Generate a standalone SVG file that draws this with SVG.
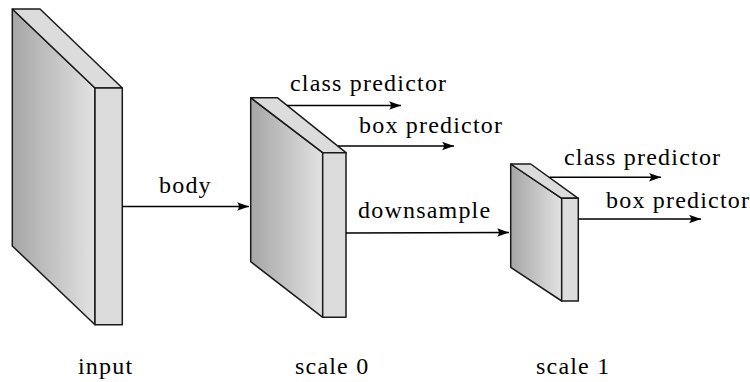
<svg xmlns="http://www.w3.org/2000/svg" width="750" height="382" viewBox="0 0 750 382">
<defs>
<linearGradient id="front" x1="0" y1="0" x2="1" y2="0">
<stop offset="0" stop-color="#a6a6a6"/>
<stop offset="1" stop-color="#e2e2e2"/>
</linearGradient>
<marker id="arr" markerUnits="userSpaceOnUse" markerWidth="14" markerHeight="10" viewBox="-12 -5 14 10" refX="0" refY="0" orient="auto">
<path d="M0,0 L-12,-4.2 Q-8,0 -12,4.2 Z" fill="#000"/>
</marker>
</defs>
<style>
.face{fill:url(#front);stroke:#1a1a1a;stroke-width:1.5;stroke-linejoin:round}
.side{fill:#dcdcdc;stroke:#1a1a1a;stroke-width:1.5;stroke-linejoin:round}
.conn line{stroke:#000;stroke-width:1.5;marker-end:url(#arr)}
.t{font-family:'Liberation Serif','Times New Roman','DejaVu Serif',serif;font-size:24px;letter-spacing:1.2px;fill:#000}
</style>
<rect width="750" height="382" fill="#fff"/>
<g id="input">
<polygon class="face" points="12.3,9 95,88 95,324.7 12.3,246"/>
<polygon class="side" points="12.3,9 40,9 122.3,88 95,88"/>
<rect class="side" x="95" y="88" width="27.3" height="236.7"/>
<text class="t" font-family="Liberation Serif, DejaVu Serif, serif" x="78" y="374">input</text>
</g>
<g id="scale0">
<polygon class="face" points="250.7,97.7 322.7,152.7 322.7,317.3 250.7,261.7"/>
<polygon class="side" points="250.7,97.7 277.3,97.7 346,152.7 322.7,152.7"/>
<rect class="side" x="322.7" y="152.7" width="23.3" height="164.6"/>
<text class="t" font-family="Liberation Serif, DejaVu Serif, serif" x="295" y="374">scale 0</text>
</g>
<g id="scale1">
<polygon class="face" points="510.7,164 561.7,198.3 561.7,301 510.7,267.3"/>
<polygon class="side" points="510.7,164 530.7,164 578.3,198.3 561.7,198.3"/>
<rect class="side" x="561.7" y="198.3" width="16.6" height="102.7"/>
<text class="t" font-family="Liberation Serif, DejaVu Serif, serif" x="536" y="374">scale 1</text>
</g>
<g id="connectors" class="conn">
<line x1="122.3" y1="206.5" x2="249" y2="206.5"/>
<line x1="287" y1="105.5" x2="401" y2="105.5"/>
<line x1="338" y1="146" x2="454" y2="146"/>
<line x1="346" y1="233" x2="509" y2="232.5"/>
<line x1="549.5" y1="177.3" x2="661" y2="177.3"/>
<line x1="578.3" y1="219" x2="701" y2="219"/>
</g>
<g id="labels">
<text class="t" font-family="Liberation Serif, DejaVu Serif, serif" x="159" y="193">body</text>
<text class="t" font-family="Liberation Serif, DejaVu Serif, serif" x="290" y="91">class predictor</text>
<text class="t" font-family="Liberation Serif, DejaVu Serif, serif" x="359" y="133">box predictor</text>
<text class="t" font-family="Liberation Serif, DejaVu Serif, serif" x="358" y="218">downsample</text>
<text class="t" font-family="Liberation Serif, DejaVu Serif, serif" x="564" y="165">class predictor</text>
<text class="t" font-family="Liberation Serif, DejaVu Serif, serif" x="606" y="208">box predictor</text>
</g>
</svg>
